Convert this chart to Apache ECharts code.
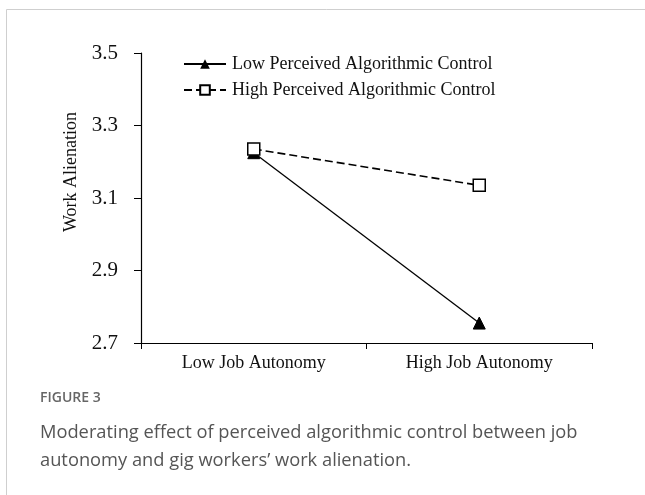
<!DOCTYPE html>
<html>
<head>
<meta charset="utf-8">
<script src="https://cdn.jsdelivr.net/npm/echarts@6/dist/echarts.min.js"></script>
<style>
  html, body { margin: 0; padding: 0; background: #fff; }
  #chart-container { width: 645px; height: 495px; }
</style>
</head>
<body>
<div id="chart-container"></div>
<script>
var dom = document.getElementById('chart-container');
var myChart = echarts.init(dom, null, { renderer: 'canvas' });

// data
var categories = ['Low Job Autonomy', 'High Job Autonomy'];
var lowPAC = [3.225, 2.755];
var highPAC = [3.235, 3.135];
var yTicks = [2.7, 2.9, 3.1, 3.3, 3.5];

var serif = '"Liberation Serif", "Times New Roman", serif';

var option = {
  backgroundColor: '#fff',
  animation: false,
  grid: { left: 141, right: 53, top: 53, bottom: 152, containLabel: false },
  legend: {
    orient: 'vertical',
    left: 178,
    top: 50,
    itemWidth: 42,
    itemHeight: 12,
    itemGap: 8,
    textStyle: { fontFamily: serif, fontSize: 18, color: '#111', padding: [0, 0, 0, 1] },
    data: ['Low Perceived Algorithmic Control', 'High Perceived Algorithmic Control']
  },
  xAxis: {
    type: 'category',
    data: categories,
    boundaryGap: true,
    axisLine: { lineStyle: { color: '#000', width: 1.2 } },
    axisTick: { show: true, length: 6, lineStyle: { color: '#000' } },
    axisLabel: { fontFamily: serif, fontSize: 18, color: '#111', margin: 11 }
  },
  yAxis: {
    type: 'value',
    min: 2.7,
    max: 3.5,
    splitLine: { show: false },
    axisLine: { show: true, lineStyle: { color: '#000', width: 1.2 } },
    axisTick: { show: true, length: 7, customValues: yTicks, lineStyle: { color: '#000' } },
    axisLabel: {
      customValues: yTicks,
      fontFamily: serif,
      fontSize: 21,
      color: '#111',
      margin: 23,
      formatter: function (v) { return v.toFixed(1); }
    }
  },
  graphic: [
    {
      type: 'rect',
      shape: { x: 6.5, y: 9.5, width: 700, height: 600 },
      style: { fill: null, stroke: '#cfcfcf', lineWidth: 1 },
      silent: true
    },
    {
      type: 'text',
      x: 71,
      y: 172,
      rotation: Math.PI / 2,
      style: {
        text: 'Work Alienation',
        font: '18px ' + serif,
        fill: '#111',
        align: 'center',
        verticalAlign: 'middle'
      }
    },
    {
      type: 'text',
      left: 40,
      top: 391,
      style: { text: 'FIGURE 3', font: '600 14px "Open Sans", sans-serif', fill: '#666' }
    },
    {
      type: 'text',
      left: 40,
      top: 419,
      style: {
        text: 'Moderating effect of perceived algorithmic control between job\nautonomy and gig workers\u2019 work alienation.',
        font: '18.3px "Open Sans", sans-serif',
        lineHeight: 28,
        fill: '#555'
      }
    }
  ],
  series: [
    {
      name: 'Low Perceived Algorithmic Control',
      type: 'line',
      data: lowPAC,
      symbol: 'triangle',
      symbolSize: 12,
      lineStyle: { color: '#000', width: 1.3, type: 'solid' },
      itemStyle: { color: '#000', borderColor: '#000' },
      z: 2
    },
    {
      name: 'High Perceived Algorithmic Control',
      type: 'line',
      data: highPAC,
      symbol: 'rect',
      symbolSize: 12,
      lineStyle: { color: '#000', width: 1.6, type: [8, 4] },
      itemStyle: { color: '#fff', borderColor: '#000', borderWidth: 1.5 },
      z: 3
    }
  ]
};

myChart.setOption(option);
window.addEventListener('resize', myChart.resize);
</script>
</body>
</html>
